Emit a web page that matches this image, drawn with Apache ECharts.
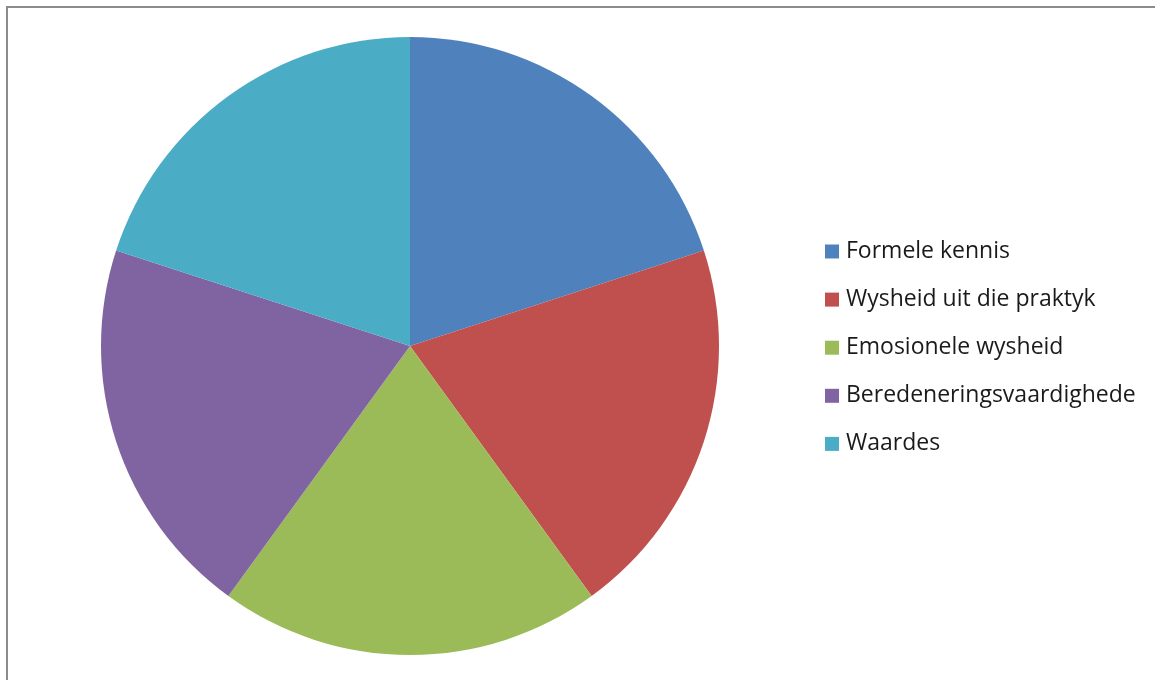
<!DOCTYPE html>
<html>
<head>
<meta charset="utf-8">
<script src="https://cdn.jsdelivr.net/npm/echarts@6/dist/echarts.min.js"></script>
<style>
  html, body { margin: 0; padding: 0; background: #fff; }
  #container { width: 1155px; height: 680px; }
</style>
</head>
<body>
<div id="container"></div>
<script>
var categories = ['Formele kennis', 'Wysheid uit die praktyk', 'Emosionele wysheid', 'Beredeneringsvaardighede', 'Waardes'];
var values = [1, 1, 1, 1, 1];
var colors = ['#4F81BD', '#C0504D', '#9BBB59', '#8064A2', '#4BACC6'];

var myChart = echarts.init(document.getElementById('container'));
var pieData = [];
for (var i = 0; i < categories.length; i++) {
    pieData.push({name: categories[i], value: values[i]});
}
var option = {
    animation: false,
    color: colors,
    graphic: [{
        type: 'rect',
        shape: {x: 7, y: 7, width: 1200, height: 700},
        style: {fill: 'none', stroke: '#8c8c8c', lineWidth: 2}
    }],
    legend: {
        orient: 'vertical',
        left: 820,
        top: 235,
        icon: 'rect',
        itemWidth: 14,
        itemHeight: 14,
        itemGap: 25.1,
        textStyle: {
            fontFamily: 'Open Sans',
            fontSize: 23,
            lineHeight: 20,
            color: '#1a1a1a',
            padding: [0, 0, 0, 2]
        },
        data: categories
    },
    series: [{
        type: 'pie',
        center: [410, 346],
        radius: 309,
        startAngle: 90,
        clockwise: true,
        label: {show: false},
        labelLine: {show: false},
        emphasis: {disabled: true},
        itemStyle: {borderWidth: 0},
        data: pieData
    }]
};
myChart.setOption(option);
</script>
</body>
</html>
